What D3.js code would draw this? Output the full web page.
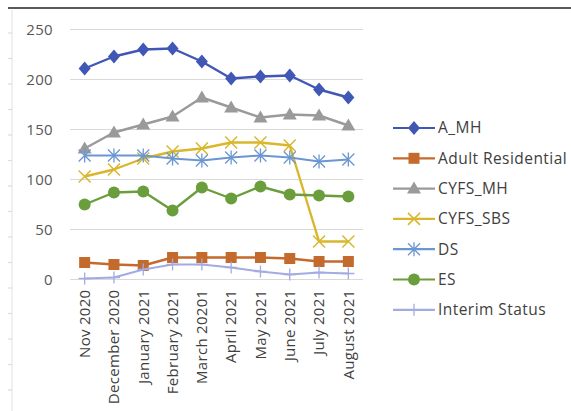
<!DOCTYPE html>
<html>
<head>
<meta charset="utf-8">
<script src="https://cdn.jsdelivr.net/npm/d3@7"></script>
<style>
  html, body { margin: 0; padding: 0; background: #fff; }
  svg { display: block; font-family: "Open Sans", "Liberation Sans", sans-serif; }
</style>
</head>
<body>
<svg id="chart" width="571" height="411"></svg>
<script>
// Monthly counts by program, Nov 2020 – Aug 2021
const months = ["Nov 2020", "December 2020", "January 2021", "February 2021", "March 20201",
                "April 2021", "May 2021", "June 2021", "July 2021", "August 2021"];
const aMH            = [211, 223, 230, 231, 218, 201, 203, 204, 190, 182];
const adultResidential = [17, 15, 14, 22, 22, 22, 22, 21, 18, 18];
const cyfsMH         = [131, 147, 155, 163, 182, 172, 162, 165, 164, 154];
const cyfsSBS        = [103, 110, 121, 128, 131, 137, 137, 134, 38, 38];
const ds             = [124, 124, 124, 121, 119, 122, 124, 122, 118, 120];
const es             = [75, 87, 88, 69, 92, 81, 93, 85, 84, 83];
const interimStatus  = [1, 2, 10, 15, 15, 12, 8, 5, 7, 6];
const yTicks = [0, 50, 100, 150, 200, 250];

const series = [
  { name: "A_MH",              values: aMH,              color: "#4157B5", marker: "diamond" },
  { name: "Adult Residential", values: adultResidential, color: "#C46A2C", marker: "square" },
  { name: "CYFS_MH",           values: cyfsMH,           color: "#9A9A9A", marker: "triangle" },
  { name: "CYFS_SBS",          values: cyfsSBS,          color: "#D9B72C", marker: "x" },
  { name: "DS",                values: ds,               color: "#6B96D2", marker: "star" },
  { name: "ES",                values: es,               color: "#6A9E3C", marker: "circle" },
  { name: "Interim Status",    values: interimStatus,    color: "#A3ABE2", marker: "plus" }
];

const svg = d3.select("#chart");

// page frame: dark top rule and a faint ruler down the left side
svg.append("line").attr("x1", 8).attr("x2", 571).attr("y1", 8).attr("y2", 8)
  .attr("stroke", "#5a5a5a").attr("stroke-width", 2.2);
svg.append("line").attr("x1", 12).attr("x2", 12).attr("y1", 10).attr("y2", 411)
  .attr("stroke", "#e6e6e6").attr("stroke-width", 1.2);
svg.append("g").selectAll("line").data(d3.range(33, 411, 25.5)).join("line")
  .attr("x1", 8).attr("x2", 12).attr("y1", d => d).attr("y2", d => d)
  .attr("stroke", "#dddddd").attr("stroke-width", 1.2);

const plot = { left: 70, right: 363, top: 29.5, bottom: 279.5 };

const x = d3.scaleBand().domain(months).range([plot.left, plot.right]);
const xc = d => x(d) + x.bandwidth() / 2;
const y = d3.scaleLinear().domain([0, 250]).range([plot.bottom, plot.top]);

// gridlines
svg.append("g").selectAll("line").data(yTicks).join("line")
  .attr("x1", plot.left).attr("x2", plot.right)
  .attr("y1", d => y(d)).attr("y2", d => y(d))
  .attr("stroke", "#d9d9d9").attr("stroke-width", 1.2);

// y axis labels
const yAxis = d3.axisLeft(y).tickValues(yTicks).tickSize(0).tickPadding(0);
const yg = svg.append("g").attr("transform", `translate(${plot.left - 17},0)`).call(yAxis);
yg.select(".domain").remove();
yg.selectAll("text").attr("fill", "#595959").style("font-size", "15px")
  .style("letter-spacing", "0.3px")
  .style("font-family", "'Open Sans', sans-serif");

// x axis labels (rotated)
const xAxis = d3.axisBottom(x).tickSize(0).tickPadding(0);
const xg = svg.append("g").attr("transform", `translate(0,${plot.bottom + 10})`).call(xAxis);
xg.select(".domain").remove();
xg.selectAll("text")
  .attr("transform", "rotate(-90)")
  .attr("text-anchor", "end")
  .attr("x", 0).attr("y", 0).attr("dy", "0.35em")
  .attr("fill", "#404040").style("font-size", "15px")
  .style("letter-spacing", "0.3px")
  .style("font-family", "'Open Sans', sans-serif");

function drawMarker(g, type, color, cx, cy) {
  const s = 6;
  switch (type) {
    case "diamond":
      g.append("path").attr("d", `M${cx},${cy - s - 1}L${cx + s},${cy}L${cx},${cy + s + 1}L${cx - s},${cy}Z`)
        .attr("fill", color); break;
    case "square":
      g.append("rect").attr("x", cx - 5.5).attr("y", cy - 5.5).attr("width", 11).attr("height", 11)
        .attr("fill", color); break;
    case "triangle":
      g.append("path").attr("d", `M${cx},${cy - 7}L${cx + 7},${cy + 5}L${cx - 7},${cy + 5}Z`)
        .attr("fill", color); break;
    case "x":
      g.append("path").attr("d", `M${cx - 6},${cy - 6}L${cx + 6},${cy + 6}M${cx - 6},${cy + 6}L${cx + 6},${cy - 6}`)
        .attr("stroke", color).attr("stroke-width", 1.5).attr("fill", "none"); break;
    case "star":
      g.append("path").attr("d", `M${cx - 6},${cy - 6}L${cx + 6},${cy + 6}M${cx - 6},${cy + 6}L${cx + 6},${cy - 6}M${cx},${cy - 7}L${cx},${cy + 7}`)
        .attr("stroke", color).attr("stroke-width", 1.3).attr("fill", "none"); break;
    case "circle":
      g.append("circle").attr("cx", cx).attr("cy", cy).attr("r", 6).attr("fill", color); break;
    case "plus":
      g.append("path").attr("d", `M${cx - 6},${cy}L${cx + 6},${cy}M${cx},${cy - 6}L${cx},${cy + 6}`)
        .attr("stroke", color).attr("stroke-width", 1.3).attr("fill", "none"); break;
  }
}

const line = d3.line().x((d, i) => xc(months[i])).y(d => y(d));
const lineW = { "DS": 2, "Interim Status": 2 };

series.forEach(s => {
  const g = svg.append("g");
  g.append("path").datum(s.values).attr("d", line)
    .attr("fill", "none").attr("stroke", s.color)
    .attr("stroke-width", lineW[s.name] || 2.4).attr("stroke-linejoin", "round");
  s.values.forEach((v, i) => drawMarker(g, s.marker, s.color, xc(months[i]), y(v)));
});

// legend
const legendTop = 128, legendStep = 30.3;
const lg = svg.append("g");
series.forEach((s, i) => {
  const ly = legendTop + i * legendStep;
  const g = lg.append("g");
  g.append("line").attr("x1", 393).attr("x2", 435).attr("y1", ly).attr("y2", ly)
    .attr("stroke", s.color).attr("stroke-width", 2.2);
  drawMarker(g, s.marker, s.color, 414, ly);
  g.append("text").attr("x", 438).attr("y", ly).attr("dy", "0.35em")
    .attr("fill", "#404040").style("font-size", "15.5px")
    .style("letter-spacing", "0.45px").text(s.name);
});
</script>
</body>
</html>
